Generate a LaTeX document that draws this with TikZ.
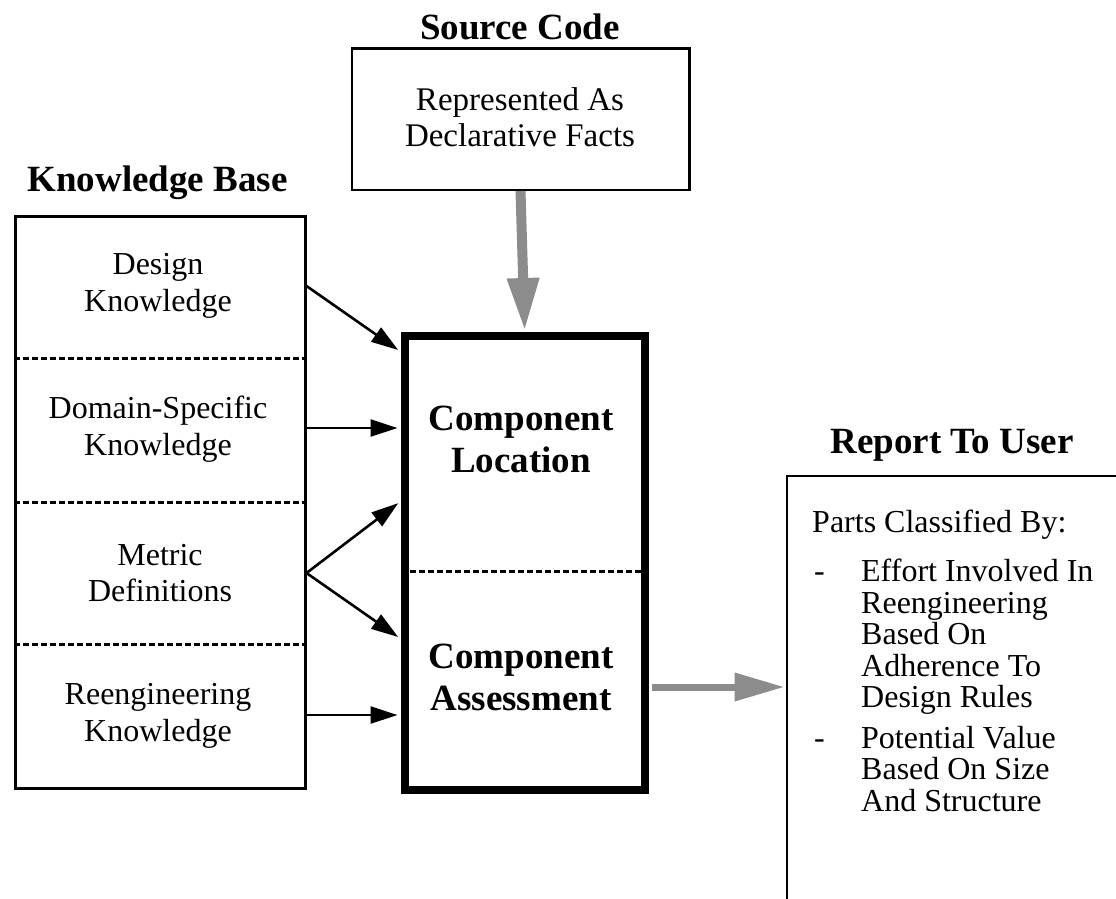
\documentclass[tikz,border=0pt]{standalone}
\usepackage{fontspec}
\setmainfont{Liberation Serif}
\usetikzlibrary{arrows.meta}

\definecolor{halftone}{rgb}{0.55,0.55,0.55}

\tikzset{
  frame/.style={draw, line width=2.5pt, inner sep=0pt},
  heavyframe/.style={draw, line width=7.5pt, inner sep=0pt},
  heading/.style={font=\fontsize{37}{41}\selectfont\bfseries, inner sep=0pt, anchor=base},
  kbtext/.style={font=\fontsize{32}{36.5}\selectfont, align=center, inner sep=0pt},
  srctext/.style={font=\fontsize{33}{36}\selectfont, align=center, inner sep=0pt},
  bigtext/.style={font=\fontsize{37}{42}\selectfont\bfseries, align=center, inner sep=0pt},
  divider/.style={line width=3pt, dash pattern=on 6pt off 3pt},
  link/.style={line width=2.6pt, shorten >=3.5pt, -{Triangle[length=27pt,width=17pt]}},
  flowdown/.style={draw=halftone, line width=10pt, shorten >=1pt,
    -{Triangle[length=53pt,width=30pt]}},
  flowright/.style={draw=halftone, line width=7pt, shorten <=3.5pt, shorten >=1pt,
    -{Triangle[length=50pt,width=27pt]}},
}

\begin{document}
\begin{tikzpicture}[x=1pt,y=-1pt]
\useasboundingbox (0,0) rectangle (1116,898);
\clip (0,0) rectangle (1116,898);

% source code box
\node[frame, anchor=north west, minimum width=337.5pt, minimum height=141.5pt] (sb) at (350.5,47) {};
\node[heading] (sbh) at (520,39) {Source Code};
\node[srctext] (sbt) at (520,117) {Represented As\\Declarative Facts};

% knowledge base: four stacked sections
\node[frame, anchor=north west, minimum width=290pt, minimum height=572pt] (kb) at (14,215) {};
\node[heading] (kbh) at (157.5,191) {Knowledge Base};
\draw[divider] (kb.west |- 0,358) -- (kb.east |- 0,358);
\draw[divider] (kb.west |- 0,502) -- (kb.east |- 0,502);
\draw[divider] (kb.west |- 0,644) -- (kb.east |- 0,644);
\node[kbtext] (k1) at (158,286) {Design\\Knowledge};
\node[kbtext] (k2) at (158,429) {Domain-Specific\\Knowledge};
\node[kbtext] (k3) at (160,573) {Metric\\Definitions};
\node[kbtext] (k4) at (158,716) {Reengineering\\Knowledge};

% component box
\node[heavyframe, anchor=north west, minimum width=240pt, minimum height=454pt] (cb) at (401,332) {};
\draw[divider] (cb.west |- 0,571) -- (cb.east |- 0,571);
\node[bigtext] (c1) at (521,439) {Component\\Location};
\node[bigtext] (c2) at (521,677) {Component\\Assessment};

% report box (runs past the right and bottom edges)
\node[frame, anchor=north west, minimum width=420pt, minimum height=480pt] (rb) at (785.5,474.5) {};
\node[heading] (rbh) at (952,453) {Report To User};
\node[anchor=base west, inner sep=0pt, font=\fontsize{32}{31.2}\selectfont] (rt) at (812,532) {%
\begin{tabular}[t]{@{}l@{}}
Parts Classified By:\\[18pt]
\makebox[49pt][l]{\hspace*{2pt}-}Effort Involved In\\
\hspace*{49pt}Reengineering\\
\hspace*{49pt}Based On\\
\hspace*{49pt}Adherence To\\
\hspace*{49pt}Design Rules\\[9pt]
\makebox[49pt][l]{\hspace*{2pt}-}Potential Value\\
\hspace*{49pt}Based On Size\\
\hspace*{49pt}And Structure
\end{tabular}};

% knowledge feeding the component analysis
\draw[link] (kb.east |- 0,286) -- (cb.west |- 0,352);
\draw[link] (kb.east |- 0,428) -- (cb.west |- 0,428);
\draw[link] (kb.east |- 0,573) -- (cb.west |- 0,501);
\draw[link] (kb.east |- 0,573) -- (cb.west |- 0,639);
\draw[link] (kb.east |- 0,715) -- (cb.west |- 0,715);

% main data flow
\draw[flowdown] (sb.south) -- (cb.north);
\draw[flowright] (cb.east |- 0,687) -- (rb.west |- 0,687);
\end{tikzpicture}
\end{document}
